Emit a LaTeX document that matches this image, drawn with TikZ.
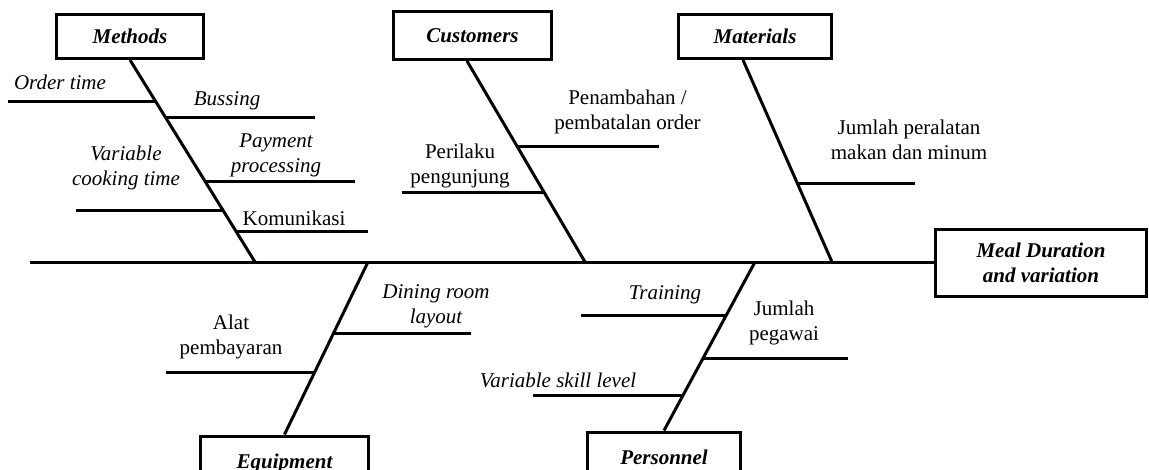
\documentclass[tikz,border=0pt]{standalone}
\usepackage{fontspec}
\setmainfont{Liberation Serif}
\usepackage{tikz}

\begin{document}
\begin{tikzpicture}[x=0.5pt,y=-0.5pt,
	catbox/.style={draw,line width=1.5pt,inner sep=0pt,font=\fontsize{10.5}{12.5}\selectfont\bfseries\itshape},
	bone/.style={line width=1.5pt},
	lbl/.style={align=center,inner sep=0pt,anchor=base,font=\fontsize{10.5}{12.5}\selectfont},
	ilbl/.style={lbl,font=\fontsize{10.5}{12.5}\selectfont\itshape}]
	\clip (0,0) rectangle (1149,470);

	% head and categories
	\node[catbox,align=center,minimum width=105.5pt,minimum height=33.5pt] (meal) at (1041,263) {Meal Duration\\and variation};
	\node[catbox,minimum width=73.5pt,minimum height=22pt] (methods) at (130,36.5) {Methods};
	\node[catbox,minimum width=79pt,minimum height=24pt] (customers) at (472.5,35.5) {Customers};
	\node[catbox,minimum width=76.5pt,minimum height=22pt] (materials) at (755,36.5) {Materials};
	\node[catbox,minimum width=84pt,minimum height=27.5pt,anchor=north] (equipment) at (284.5,434.5) {Equipment};
	\node[catbox,minimum width=76.5pt,minimum height=25.5pt,anchor=north] (personnel) at (664,430.5) {Personnel};

	% spine
	\coordinate (tail) at (30,262);
	\draw[bone] (tail) -- (tail -| meal.west);

	% bones
	\coordinate (mh) at (255,262);
	\coordinate (ch) at (585,262);
	\coordinate (th) at (832,262);
	\coordinate (eh) at (368,262);
	\coordinate (ph) at (755,262);
	\draw[bone] (methods.south) -- (mh);
	\draw[bone] ([xshift=-2.75pt]customers.south) -- (ch);
	\draw[bone] ([xshift=-6pt]materials.south) -- (th);
	\draw[bone] (equipment.north) -- (eh);
	\draw[bone] (personnel.north) -- (ph);

	% methods
	\coordinate (ord1) at (8,102);   \coordinate (ord2) at (156,102);
	\coordinate (bus1) at (166,118); \coordinate (bus2) at (315,118);
	\coordinate (pay1) at (206,182); \coordinate (pay2) at (355,182);
	\coordinate (cook1) at (76,210); \coordinate (cook2) at (223,210);
	\coordinate (kom1) at (237,231); \coordinate (kom2) at (368,231);
	\draw[bone] (ord1) -- (ord2);
	\draw[bone] (bus1) -- (bus2);
	\draw[bone] (pay1) -- (pay2);
	\draw[bone] (cook1) -- (cook2);
	\draw[bone] (kom1) -- (kom2);
	\node[ilbl] (ordtxt) at (60,90) {Order time};
	\node[ilbl] (bustxt) at (227,106) {Bussing};
	\node[ilbl] (paytxt) at (276,173) {Payment\\processing};
	\node[ilbl] (cooktxt) at (126,185) {Variable\\cooking time};
	\node[lbl] (komtxt) at (294,225) {Komunikasi};

	% customers
	\coordinate (pen1) at (517,147); \coordinate (pen2) at (659,147);
	\coordinate (per1) at (402,193); \coordinate (per2) at (544,193);
	\draw[bone] (pen1) -- (pen2);
	\draw[bone] (per1) -- (per2);
	\node[lbl] (pentxt) at (627.5,130) {Penambahan /\\pembatalan order};
	\node[lbl] (pertxt) at (460,184) {Perilaku\\pengunjung};

	% materials
	\coordinate (jum1) at (798,184); \coordinate (jum2) at (915,184);
	\draw[bone] (jum1) -- (jum2);
	\node[lbl] (jumtxt) at (909,160) {Jumlah peralatan\\makan dan minum};

	% equipment
	\coordinate (din1) at (334,333); \coordinate (din2) at (471,333);
	\coordinate (alat1) at (166,372); \coordinate (alat2) at (315,372);
	\draw[bone] (din1) -- (din2);
	\draw[bone] (alat1) -- (alat2);
	\node[ilbl] (dintxt) at (436,323) {Dining room\\layout};
	\node[lbl] (alattxt) at (231,354) {Alat\\pembayaran};

	% personnel
	\coordinate (tr1) at (581,315);  \coordinate (tr2) at (726,315);
	\coordinate (peg1) at (703,358); \coordinate (peg2) at (848,358);
	\coordinate (sk1) at (533,395);  \coordinate (sk2) at (683,395);
	\draw[bone] (tr1) -- (tr2);
	\draw[bone] (peg1) -- (peg2);
	\draw[bone] (sk1) -- (sk2);
	\node[ilbl] (trtxt) at (665,299) {Training};
	\node[lbl] (pegtxt) at (784,340) {Jumlah\\pegawai};
	\node[ilbl] (sktxt) at (558,387) {Variable skill level};
\end{tikzpicture}
\end{document}
